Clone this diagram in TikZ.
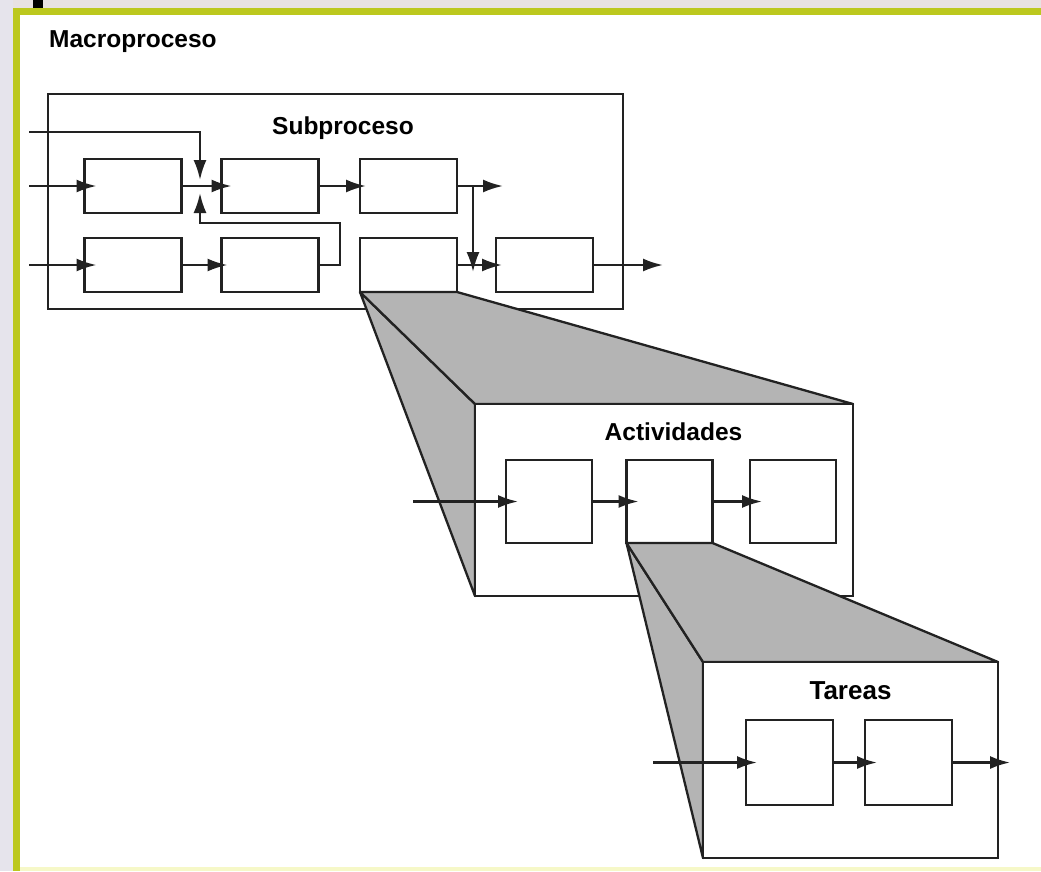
\documentclass[tikz,border=0pt]{standalone}
\usepackage{fontspec}
\setmainfont{Liberation Sans}
\usetikzlibrary{arrows.meta}
\definecolor{frameyg}{HTML}{BCC81E}
\definecolor{leftbg}{HTML}{E6E4EC}
\definecolor{topbg}{HTML}{E8E2E2}
\definecolor{ink}{HTML}{222222}
\definecolor{shadegray}{HTML}{B4B4B4}
\definecolor{paleyel}{HTML}{F6F8C8}
\begin{document}
\begin{tikzpicture}[x=1pt,y=-1pt,
  boxline/.style={draw=ink,line width=2.3pt},
  proc/.style={boxline,fill=white,inner sep=0pt,outer sep=0pt,minimum width=97pt,minimum height=54pt},
  aproc/.style={boxline,fill=white,inner sep=0pt,outer sep=0pt,minimum width=86pt,minimum height=83pt},
  tproc/.style={boxline,fill=white,inner sep=0pt,outer sep=0pt,minimum width=87pt,minimum height=85pt},
  bigbox/.style={inner sep=0pt,outer sep=0pt},
  face/.style={boxline,fill=shadegray,line join=round},
  arr/.style={draw=ink,line width=2.3pt,-{Latex[length=20pt,width=13pt]}},
  lbl/.style={font=\bfseries\fontsize{24.5}{29}\selectfont,text=black,inner sep=0pt}]
% background and slide frame
\fill[leftbg] (0,0) rectangle (1041,871);
\fill[topbg] (13,0) rectangle (1041,8);
\fill[black] (33,0) rectangle (43,8);
\fill[frameyg] (13,8) rectangle (1041,871);
\fill[white] (20,15) rectangle (1041,867);
\fill[paleyel] (20,867) rectangle (1041,871);
\useasboundingbox (0,0) rectangle (1041,871);

\node[lbl,anchor=base west] (macro) at (49,47) {Macroproceso};

% Subproceso
\node[boxline,fill=white,bigbox,minimum width=575pt,minimum height=215pt] (sub) at (335.5,201.5) {};
\node[lbl,anchor=base] (subt) at (343,134) {Subproceso};
\node[proc] (A) at (133,186) {};
\node[proc] (B) at (270,186) {};
\node[proc] (C) at (408.5,186) {};
\node[proc] (D) at (133,265) {};
\node[proc] (E) at (270,265) {};
\node[proc] (F) at (408.5,265) {};
\node[proc] (G) at (544.5,265) {};

\coordinate (inA) at (29,186);
\coordinate (inD) at (29,265);
\coordinate (topin) at (29,132);
\coordinate (jx) at (200,132);
\coordinate (jtip) at (200,180);
\coordinate (fbR) at (340,223);
\coordinate (fbL) at (200,223);
\coordinate (fbtip) at (200,193);
\coordinate (outC) at (503,186);
\coordinate (vtop) at (473,186);
\coordinate (vtip) at (473,272);
\coordinate (outG) at (663,265);

\draw[arr] (inA) -- ([xshift=12pt]A.west);
\draw[arr] (inD) -- ([xshift=12pt]D.west);
\draw[arr] (topin) -- (jx) -- (jtip);
\draw[arr] (A.east) -- ([xshift=10pt]B.west);
\draw[arr] (E.east) -| (fbR) -- (fbL) -- (fbtip);
\draw[arr] (B.east) -- ([xshift=6pt]C.west);
\draw[arr] (D.east) -- ([xshift=6pt]E.west);
\draw[arr] (C.east) -- (outC);
\draw[arr] (vtop) -- (vtip);
\draw[arr] (F.east) -- ([xshift=6pt]G.west);
\draw[arr] (G.east) -- (outG);

% Actividades
\node[bigbox,minimum width=378pt,minimum height=192pt] (act) at (664,500) {};
\filldraw[face] (F.south west) -- (act.north west) -- (act.south west) -- cycle;
\filldraw[face] (F.south west) -- (F.south east) -- (act.north east) -- (act.north west) -- cycle;
\draw[boxline,fill=white] (act.north west) rectangle (act.south east);
\node[lbl,anchor=base] (actt) at (673.5,440) {Actividades};
\node[aproc] (a1) at (549,501.5) {};
\node[aproc] (a2) at (669.5,501.5) {};
\node[aproc] (a3) at (793,501.5) {};
\coordinate (inAct) at (413,501.5);
\draw[arr] (inAct) -- ([xshift=12pt]a1.west);
\draw[arr] (a1.east) -- ([xshift=12pt]a2.west);
\draw[arr] (a2.east) -- ([xshift=12pt]a3.west);

% Tareas
\node[bigbox,minimum width=295pt,minimum height=196pt] (tar) at (850.5,760) {};
\filldraw[face] (a2.south west) -- (tar.north west) -- (tar.south west) -- cycle;
\filldraw[face] (a2.south west) -- (a2.south east) -- (tar.north east) -- (tar.north west) -- cycle;
\draw[boxline,fill=white] (tar.north west) rectangle (tar.south east);
\node[lbl,anchor=base,font=\bfseries\fontsize{26}{30}\selectfont] (tart) at (850.5,699) {Tareas};
\node[tproc] (t1) at (789.5,762.5) {};
\node[tproc] (t2) at (908.5,762.5) {};
\coordinate (inT) at (653,762.5);
\coordinate (outT) at (1010,762.5);
\draw[arr] (inT) -- ([xshift=11pt]t1.west);
\draw[arr] (t1.east) -- ([xshift=12pt]t2.west);
\draw[arr] (t2.east) -- (outT);
\end{tikzpicture}
\end{document}
